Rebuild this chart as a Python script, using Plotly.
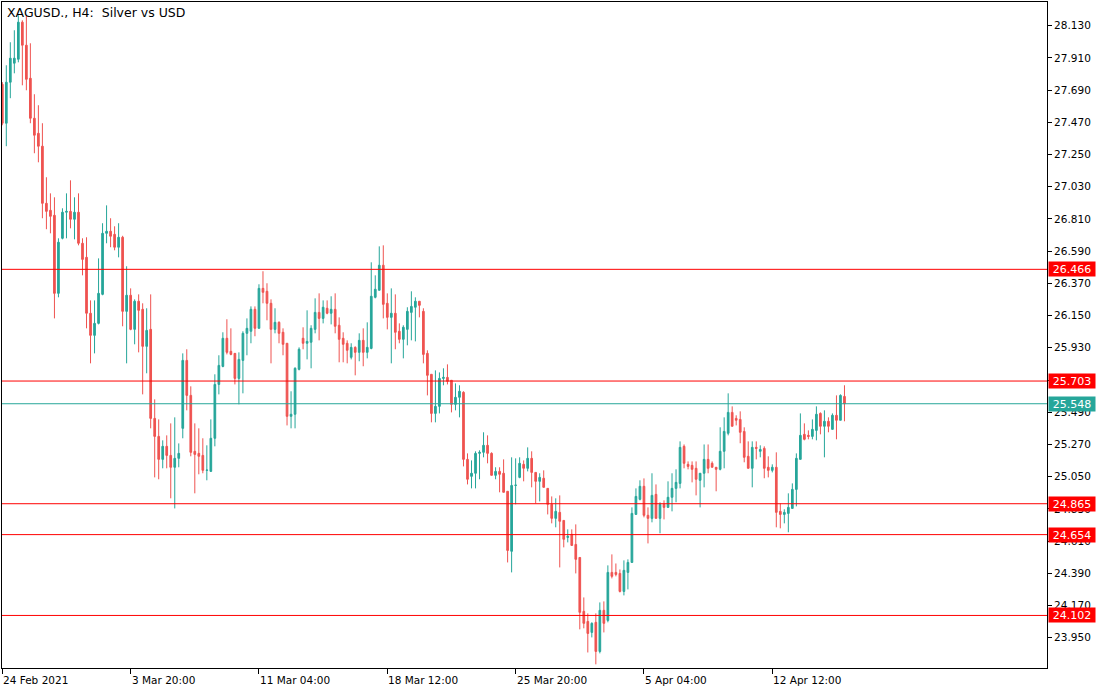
import plotly.graph_objects as go

# ---- OHLC data (XAGUSD H4) ----
opens = [27.730, 27.464, 27.744, 27.874, 27.901, 28.154, 27.997, 27.771, 27.498, 27.395,
         27.307, 26.917, 26.869, 26.835, 26.302, 26.678, 26.856, 26.862, 26.808, 26.856,
         26.644, 26.548, 26.166, 26.015, 26.097, 26.295, 26.712, 26.726, 26.705, 26.617,
         26.685, 26.179, 26.289, 26.056, 26.248, 26.193, 25.940, 26.056, 25.448, 25.325,
         25.168, 25.257, 25.195, 25.114, 25.175, 25.380, 25.844, 25.605, 25.223, 25.209,
         25.195, 25.093, 25.086, 25.312, 25.680, 25.803, 25.995, 25.906, 25.892, 25.721,
         25.844, 26.029, 26.043, 26.193, 26.063, 26.336, 26.316, 26.234, 26.056, 26.104,
         26.036, 25.961, 25.462, 25.476, 25.783, 25.995, 25.961, 25.968, 26.056, 26.172,
         26.131, 26.200, 26.166, 26.193, 26.084, 25.995, 25.961, 25.865, 25.933, 25.899,
         25.981, 25.899, 25.926, 26.275, 26.323, 26.494, 26.234, 26.138, 26.166, 26.043,
         25.988, 26.056, 26.172, 26.207, 26.248, 26.179, 25.892, 25.749, 25.482, 25.530,
         25.721, 25.728, 25.708, 25.544, 25.592, 25.626, 25.168, 25.052, 25.073, 25.209,
         25.216, 25.264, 25.209, 25.059, 25.086, 25.073, 24.950, 24.540, 24.990, 25.045,
         25.134, 25.107, 25.175, 25.079, 25.018, 25.039, 24.970, 24.861, 24.765, 24.806,
         24.751, 24.635, 24.656, 24.587, 24.498, 24.130, 24.061, 23.986, 24.055, 23.856,
         24.137, 24.068, 24.396, 24.396, 24.389, 24.266, 24.396, 24.464, 24.792, 24.895,
         24.984, 24.786, 24.765, 24.929, 24.765, 24.861, 24.840, 24.909, 24.970, 25.004,
         25.257, 25.134, 25.127, 25.107, 25.025, 25.073, 25.168, 25.141, 25.114, 25.100,
         25.223, 25.346, 25.489, 25.448, 25.441, 25.359, 25.189, 25.107, 25.250, 25.223,
         25.243, 25.114, 25.093, 25.114, 24.813, 24.792, 24.799, 24.833, 24.963, 25.168,
         25.339, 25.332, 25.325, 25.366, 25.482, 25.394, 25.428, 25.373, 25.469, 25.435,
         25.598]
highs = [27.745, 27.860, 28.017, 28.099, 28.202, 28.167, 28.202, 28.010, 27.662, 27.587,
         27.464, 27.095, 26.985, 26.958, 26.678, 26.883, 26.985, 27.074, 26.958, 26.985,
         26.678, 26.685, 26.254, 26.254, 26.541, 26.781, 26.903, 26.815, 26.760, 26.781,
         26.695, 26.487, 26.336, 26.261, 26.295, 26.234, 26.200, 26.295, 25.578, 25.441,
         25.298, 25.332, 25.414, 25.455, 25.277, 25.892, 25.920, 25.667, 25.414, 25.380,
         25.312, 25.264, 25.441, 25.749, 25.879, 26.036, 26.125, 26.063, 25.892, 25.899,
         26.043, 26.131, 26.213, 26.213, 26.364, 26.453, 26.371, 26.261, 26.200, 26.111,
         26.063, 25.961, 25.633, 25.797, 25.933, 26.070, 26.186, 26.084, 26.268, 26.302,
         26.254, 26.254, 26.282, 26.302, 26.138, 26.036, 25.981, 25.961, 25.940, 26.029,
         26.063, 26.104, 26.514, 26.425, 26.623, 26.630, 26.302, 26.336, 26.295, 26.097,
         26.084, 26.207, 26.316, 26.275, 26.248, 26.200, 25.913, 25.749, 25.776, 25.762,
         25.790, 25.817, 25.708, 25.687, 25.674, 25.633, 25.209, 25.161, 25.223, 25.230,
         25.353, 25.332, 25.216, 25.114, 25.114, 25.168, 24.950, 25.182, 25.175, 25.182,
         25.161, 25.250, 25.223, 25.079, 25.073, 25.093, 24.970, 24.915, 24.902, 24.922,
         24.751, 24.690, 24.690, 24.724, 24.498, 24.225, 24.116, 24.055, 24.116, 24.191,
         24.198, 24.444, 24.519, 24.457, 24.416, 24.478, 24.485, 24.840, 24.970, 25.025,
         25.038, 24.840, 25.073, 24.997, 24.875, 24.888, 25.018, 25.073, 25.100, 25.291,
         25.270, 25.154, 25.154, 25.154, 25.073, 25.270, 25.270, 25.154, 25.114, 25.387,
         25.455, 25.619, 25.530, 25.469, 25.496, 25.387, 25.291, 25.291, 25.291, 25.264,
         25.257, 25.189, 25.134, 25.216, 24.867, 24.827, 24.936, 25.004, 25.209, 25.482,
         25.414, 25.366, 25.441, 25.530, 25.489, 25.503, 25.455, 25.482, 25.605, 25.612,
         25.674]
lows = [27.450, 27.307, 27.635, 27.805, 27.880, 27.723, 27.689, 27.464, 27.259, 27.197,
        26.815, 26.740, 26.712, 26.131, 26.275, 26.671, 26.678, 26.746, 26.671, 26.630,
        26.425, 26.063, 25.824, 25.892, 26.090, 26.289, 26.644, 26.617, 26.596, 26.548,
        26.077, 25.824, 26.050, 25.954, 25.899, 25.612, 25.756, 25.380, 25.045, 25.032,
        25.107, 25.107, 24.902, 24.833, 25.114, 25.312, 25.503, 25.189, 24.936, 25.066,
        25.073, 25.025, 25.086, 25.257, 25.612, 25.797, 25.885, 25.879, 25.680, 25.544,
        25.619, 25.879, 25.961, 26.009, 26.063, 26.234, 26.118, 25.824, 26.029, 25.961,
        25.879, 25.400, 25.380, 25.380, 25.776, 25.920, 25.851, 25.790, 26.029, 25.981,
        26.097, 26.159, 26.090, 26.029, 25.831, 25.831, 25.824, 25.851, 25.742, 25.838,
        25.804, 25.858, 25.920, 26.268, 26.323, 26.131, 26.056, 25.824, 25.920, 25.961,
        25.858, 25.947, 25.981, 25.974, 26.138, 25.824, 25.605, 25.421, 25.421, 25.482,
        25.674, 25.680, 25.489, 25.503, 25.455, 25.120, 24.997, 24.970, 24.970, 25.032,
        25.182, 25.141, 25.059, 25.032, 24.943, 24.943, 24.464, 24.396, 24.861, 25.039,
        25.018, 25.086, 24.977, 24.868, 24.881, 24.977, 24.792, 24.731, 24.704, 24.430,
        24.567, 24.601, 24.580, 24.389, 24.007, 24.014, 23.849, 23.952, 23.768, 23.843,
        23.986, 24.055, 24.355, 24.369, 24.259, 24.239, 24.280, 24.464, 24.792, 24.888,
        24.772, 24.594, 24.738, 24.765, 24.663, 24.758, 24.840, 24.813, 24.875, 24.970,
        25.107, 25.100, 25.011, 24.922, 24.840, 24.977, 25.073, 25.114, 24.950, 25.093,
        25.107, 25.332, 25.394, 25.400, 25.278, 25.148, 25.107, 24.977, 25.168, 25.182,
        25.039, 25.045, 25.079, 24.704, 24.697, 24.731, 24.670, 24.833, 24.847, 25.168,
        25.298, 25.305, 25.305, 25.298, 25.339, 25.182, 25.353, 25.373, 25.305, 25.435,
        25.428]
closes = [27.464, 27.744, 27.908, 27.908, 28.154, 27.997, 27.764, 27.498, 27.382, 27.307,
          26.917, 26.862, 26.828, 26.302, 26.651, 26.856, 26.862, 26.808, 26.856, 26.644,
          26.534, 26.166, 26.015, 26.097, 26.302, 26.712, 26.726, 26.692, 26.617, 26.685,
          26.179, 26.289, 26.056, 26.248, 26.186, 25.940, 26.049, 25.448, 25.325, 25.168,
          25.257, 25.195, 25.114, 25.175, 25.209, 25.844, 25.605, 25.216, 25.202, 25.189,
          25.093, 25.095, 25.312, 25.680, 25.810, 25.995, 25.899, 25.885, 25.721, 25.851,
          26.029, 26.063, 26.193, 26.063, 26.336, 26.309, 26.234, 26.056, 26.104, 26.029,
          25.954, 25.462, 25.476, 25.790, 25.920, 25.961, 25.974, 26.063, 26.172, 26.131,
          26.207, 26.166, 26.193, 26.077, 25.988, 25.954, 25.913, 25.933, 25.899, 25.981,
          25.899, 25.933, 26.282, 26.330, 26.494, 26.227, 26.138, 26.166, 26.036, 25.988,
          26.070, 26.179, 26.213, 26.248, 26.220, 25.885, 25.742, 25.482, 25.530, 25.721,
          25.728, 25.701, 25.544, 25.592, 25.633, 25.168, 25.032, 25.073, 25.209, 25.216,
          25.264, 25.209, 25.059, 25.086, 25.066, 24.943, 24.546, 24.990, 24.992, 25.141,
          25.107, 25.175, 25.079, 25.018, 25.045, 24.977, 24.861, 24.765, 24.813, 24.745,
          24.622, 24.642, 24.580, 24.485, 24.123, 24.048, 23.979, 24.048, 23.856, 24.137,
          24.048, 24.396, 24.369, 24.382, 24.266, 24.410, 24.464, 24.799, 24.915, 24.984,
          24.786, 24.765, 24.922, 24.765, 24.861, 24.840, 24.909, 24.970, 25.011, 25.250,
          25.141, 25.120, 25.100, 25.032, 25.073, 25.168, 25.107, 25.114, 25.100, 25.223,
          25.359, 25.489, 25.394, 25.435, 25.353, 25.182, 25.107, 25.250, 25.243, 25.236,
          25.107, 25.093, 25.114, 24.806, 24.792, 24.806, 24.840, 24.963, 25.175, 25.332,
          25.305, 25.325, 25.373, 25.476, 25.394, 25.428, 25.394, 25.469, 25.435, 25.605,
          25.548]

bar_index = list(range(len(opens)))

# horizontal levels
level_values = [26.466, 25.703, 24.865, 24.654, 24.102]
bid_value = 25.548

# axis ticks
y_tick_values = [23.950, 24.170, 24.390, 24.610, 24.830, 25.050, 25.270, 25.490, 25.710,
                 25.930, 26.150, 26.370, 26.590, 26.810, 27.030, 27.250, 27.470, 27.690,
                 27.910, 28.130]
x_tick_index = [0, 32, 64, 96, 128, 160, 192]
x_tick_labels = ["24 Feb 2021", "3 Mar 20:00", "11 Mar 04:00", "18 Mar 12:00",
                 "25 Mar 20:00", "5 Apr 04:00", "12 Apr 12:00"]

title_text = "XAGUSD., H4:  Silver vs USD"

BULL = "#26A69A"
BEAR = "#EF5350"
LEVEL = "#FF0000"
FONT = "DejaVu Sans"

fig = go.Figure()
fig.add_trace(go.Candlestick(
    x=bar_index, open=opens, high=highs, low=lows, close=closes,
    increasing=dict(line=dict(color=BULL, width=1), fillcolor=BULL),
    decreasing=dict(line=dict(color=BEAR, width=1), fillcolor=BEAR),
    whiskerwidth=0, hoverinfo="skip", showlegend=False,
))

for v in level_values:
    fig.add_shape(type="line", xref="paper", x0=0, x1=1, yref="y", y0=v, y1=v,
                  line=dict(color=LEVEL, width=1), layer="above")
    fig.add_annotation(xref="paper", x=1, xanchor="left", xshift=1, yref="y", y=v,
                       text=f"{v:.3f}", showarrow=False, bgcolor=LEVEL,
                       font=dict(family=FONT, size=11, color="white"),
                       width=44, height=12, borderpad=1, align="center")

fig.add_shape(type="line", xref="paper", x0=0, x1=1, yref="y", y0=bid_value, y1=bid_value,
              line=dict(color=BULL, width=1), layer="above")
fig.add_annotation(xref="paper", x=1, xanchor="left", xshift=1, yref="y", y=bid_value,
                   text=f"{bid_value:.3f}", showarrow=False, bgcolor=BULL,
                   font=dict(family=FONT, size=11, color="white"),
                   width=44, height=12, borderpad=1, align="center")

for xi, lab in zip(x_tick_index, x_tick_labels):
    fig.add_annotation(xref="x", x=xi, xanchor="left", xshift=-1,
                       yref="paper", y=0, yanchor="top", yshift=-4,
                       text=lab, showarrow=False,
                       font=dict(family=FONT, size=10.5, color="black"))

fig.add_annotation(xref="paper", x=0, xanchor="left", xshift=3,
                   yref="paper", y=1, yanchor="top", yshift=-1,
                   text=title_text, showarrow=False,
                   font=dict(family=FONT, size=12.5, color="black"))

fig.update_layout(
    width=1110, height=694,
    margin=dict(l=2, r=63, t=2, b=26),
    paper_bgcolor="white", plot_bgcolor="white",
    boxgap=0.4,
    xaxis=dict(range=[-0.075, 260.5], rangeslider=dict(visible=False),
               showgrid=False, zeroline=False, showline=True, mirror=True,
               linecolor="black", linewidth=1,
               tickmode="array", tickvals=x_tick_index, showticklabels=False,
               ticks="outside", ticklen=5, tickcolor="black"),
    yaxis=dict(range=[23.743, 28.292], side="right",
               showgrid=False, zeroline=False, showline=True, mirror=True,
               linecolor="black", linewidth=1,
               tickmode="array", tickvals=y_tick_values, tickformat=".3f",
               ticks="outside", ticklen=4, tickcolor="black",
               tickfont=dict(family=FONT, size=10.5, color="black")),
    font=dict(family=FONT),
)

fig.write_html("out.html",
               config={"displayModeBar": False},
               post_script="document.body.style.margin='0px';document.body.style.overflow='hidden';")
